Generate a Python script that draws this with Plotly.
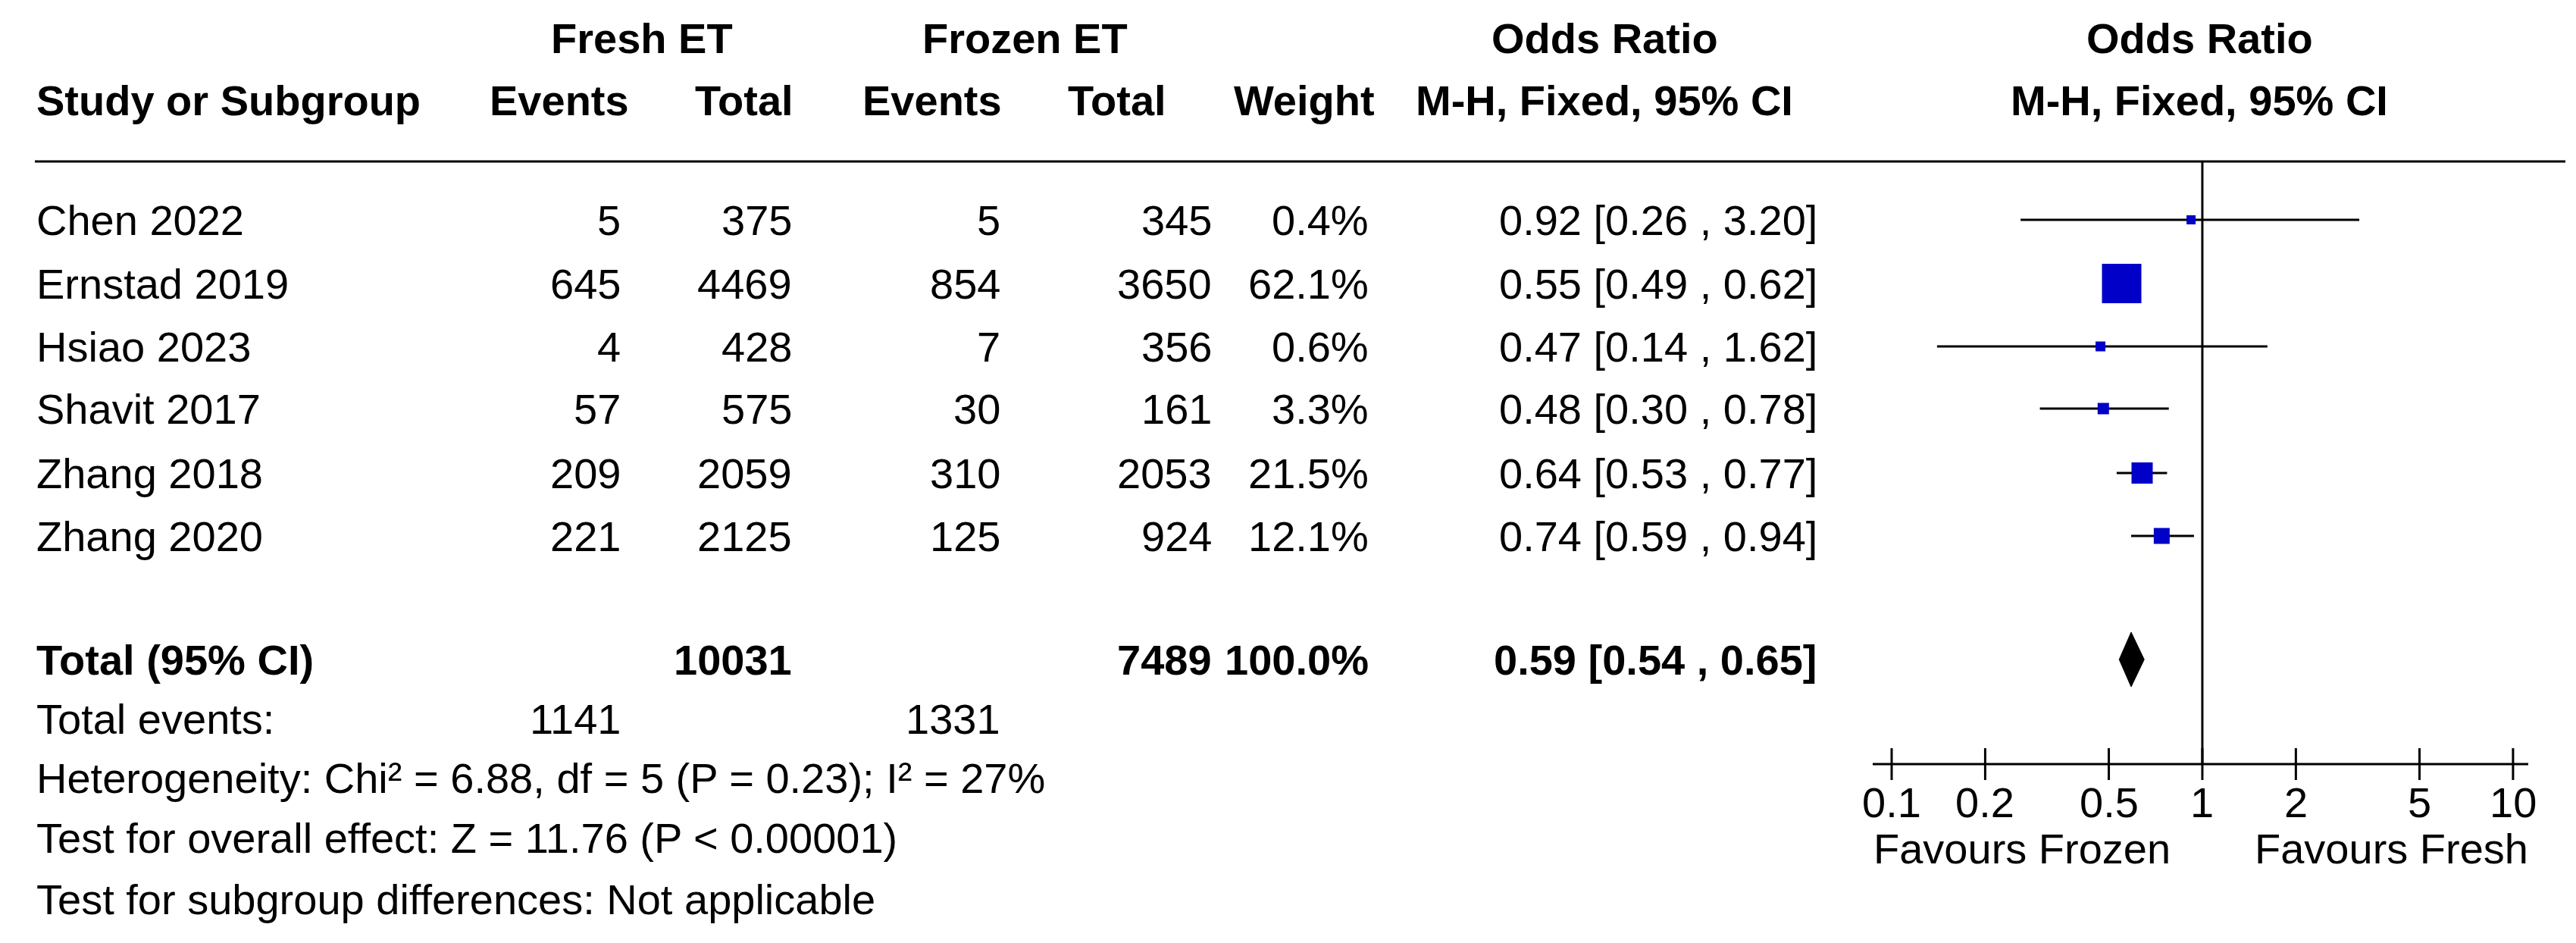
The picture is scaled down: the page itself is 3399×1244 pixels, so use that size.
import math
import plotly.graph_objects as go

studies = ["Chen 2022", "Ernstad 2019", "Hsiao 2023", "Shavit 2017", "Zhang 2018", "Zhang 2020"]
fresh_events = [5, 645, 4, 57, 209, 221]
fresh_total = [375, 4469, 428, 575, 2059, 2125]
frozen_events = [5, 854, 7, 30, 310, 125]
frozen_total = [345, 3650, 356, 161, 2053, 924]
weights = ["0.4%", "62.1%", "0.6%", "3.3%", "21.5%", "12.1%"]
or_est = [0.92, 0.55, 0.47, 0.48, 0.64, 0.74]
or_lo = [0.26, 0.49, 0.14, 0.30, 0.53, 0.59]
or_hi = [3.20, 0.62, 1.62, 0.78, 0.77, 0.94]
sq_size = [12, 52, 13, 15, 28, 21]
total_or, total_lo, total_hi = 0.59, 0.54, 0.65
tick_vals = [0.1, 0.2, 0.5, 1, 2, 5, 10]
tick_text = ["0.1", "0.2", "0.5", "1", "2", "5", "10"]

W, H = 3399, 1244
FONT = "Liberation Sans, Arial, sans-serif"
FS = 56
row_y = [282, 366, 449, 531, 616, 699]
y_total, y_axis = 862, 1000

fig = go.Figure()
ann = []
def txt(x, y, s, anchor="left", bold=False, xref="x"):
    ann.append(dict(x=x, y=y, xref=xref, yref="y", text=f"<b>{s}</b>" if bold else s,
                    showarrow=False, xanchor=anchor, yanchor="middle",
                    font=dict(family=FONT, size=FS, color="black")))

L = 38
txt(839, 42, "Fresh ET", "center", True)
txt(1344, 42, "Frozen ET", "center", True)
txt(2109, 42, "Odds Ratio", "center", True)
txt(2894, 42, "Odds Ratio", "center", True)
txt(L, 124, "Study or Subgroup", "left", True)
txt(730, 124, "Events", "center", True)
txt(974, 124, "Total", "center", True)
txt(1222, 124, "Events", "center", True)
txt(1466, 124, "Total", "center", True)
txt(1713, 124, "Weight", "center", True)
txt(2109, 124, "M-H, Fixed, 95% CI", "center", True)
txt(2894, 124, "M-H, Fixed, 95% CI", "center", True)

for i, s in enumerate(studies):
    y = row_y[i]
    txt(L, y, s)
    txt(813, y, str(fresh_events[i]), "right")
    txt(1039, y, str(fresh_total[i]), "right")
    txt(1314, y, str(frozen_events[i]), "right")
    txt(1593, y, str(frozen_total[i]), "right")
    txt(1800, y, weights[i], "right")
    txt(2392, y, f"{or_est[i]:.2f} [{or_lo[i]:.2f} , {or_hi[i]:.2f}]", "right")

txt(L, y_total, "Total (95% CI)", "left", True)
txt(1039, y_total, str(sum(fresh_total)), "right", True)
txt(1593, y_total, str(sum(frozen_total)), "right", True)
txt(1800, y_total, "100.0%", "right", True)
txt(2392, y_total, f"{total_or:.2f} [{total_lo:.2f} , {total_hi:.2f}]", "right", True)
txt(L, 940, "Total events:")
txt(813, 940, str(sum(fresh_events)), "right")
txt(1314, 940, str(sum(frozen_events)), "right")
txt(L, 1018, "Heterogeneity: Chi² = 6.88, df = 5 (P = 0.23); I² = 27%")
txt(L, 1097, "Test for overall effect: Z = 11.76 (P < 0.00001)")
txt(L, 1178, "Test for subgroup differences: Not applicable")

for v, t in zip(tick_vals, tick_text):
    ann.append(dict(x=math.log10(v), y=1050, xref="x2", yref="y", text=t,
                    showarrow=False, xanchor="center", yanchor="middle",
                    font=dict(family=FONT, size=FS, color="black")))
txt(2660, 1111, "Favours Frozen", "center")
txt(3147, 1111, "Favours Fresh", "center")

for i in range(len(studies)):
    fig.add_trace(go.Scatter(x=[or_lo[i], or_hi[i]], y=[row_y[i]] * 2, xaxis="x2", yaxis="y",
                             mode="lines", line=dict(color="black", width=3), showlegend=False))
fig.add_trace(go.Scatter(x=or_est, y=row_y, xaxis="x2", yaxis="y", mode="markers",
                         marker=dict(symbol="square", size=sq_size, color="#0000C8", opacity=1,
                                     line=dict(width=0)),
                         showlegend=False))
fig.add_trace(go.Scatter(x=[total_lo, total_or, total_hi, total_or, total_lo],
                         y=[y_total, y_total - 36, y_total, y_total + 36, y_total],
                         xaxis="x2", yaxis="y", mode="lines", fill="toself", fillcolor="black",
                         line=dict(color="black", width=1), showlegend=False))
fig.add_trace(go.Scatter(x=tick_vals, y=[y_axis] * len(tick_vals), xaxis="x2", yaxis="y",
                         mode="markers", marker=dict(symbol="line-ns", size=30,
                                                     line=dict(color="black", width=3)),
                         showlegend=False))

xmin, xmax = 10 ** -1.061, 10 ** 1.049
shapes = [
    dict(type="line", xref="x", yref="y", x0=L, x1=3377, y0=205, y1=205, line=dict(color="black", width=3)),
    dict(type="line", xref="x2", yref="y", x0=1, x1=1, y0=205, y1=y_axis, line=dict(color="black", width=3)),
    dict(type="line", xref="x2", yref="y", x0=xmin, x1=xmax, y0=y_axis, y1=y_axis, line=dict(color="black", width=3)),
]

fig.update_layout(
    width=W, height=H, margin=dict(l=0, r=0, t=0, b=0),
    paper_bgcolor="white", plot_bgcolor="rgba(0,0,0,0)",
    xaxis=dict(range=[0, W], domain=[0, 1], visible=False),
    xaxis2=dict(type="log", range=[-1.061, 1.049], domain=[2463 / W, 3328 / W],
                anchor="y", visible=False),
    yaxis=dict(range=[H, 0], domain=[0, 1], visible=False),
    annotations=ann, shapes=shapes,
)
fig.write_html("out.html")
